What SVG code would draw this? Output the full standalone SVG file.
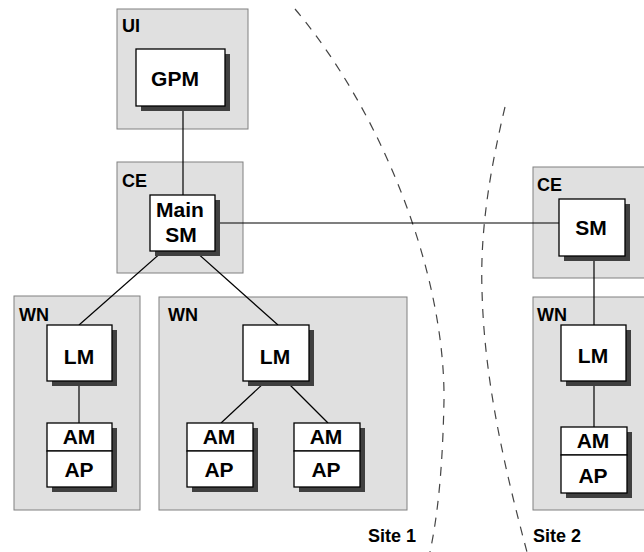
<svg xmlns="http://www.w3.org/2000/svg" width="644" height="552" viewBox="0 0 644 552">
<style>
.grp{fill:#e0e0e0;stroke:#808080;stroke-width:1}
.box{fill:#fff;stroke:#000;stroke-width:1.3}
.sh{fill:#404040}
.glab{font-family:"Liberation Sans",Arial,sans-serif;font-weight:bold;font-size:18px;fill:#000}
.nlab{font-family:"Liberation Sans",Arial,sans-serif;font-weight:bold;font-size:21px;fill:#000;text-anchor:middle}
.con{stroke:#000;stroke-width:1.2;fill:none}
.site{fill:none;stroke:#444;stroke-width:1.2;stroke-dasharray:9 8}
</style>
<rect width="644" height="552" fill="#fff"/>
<g id="groups">
<g id="g-ui"><rect class="grp" x="117" y="9" width="131" height="120"/><text class="glab" x="122" y="32">UI</text></g>
<g id="g-ce1"><rect class="grp" x="117" y="162" width="126" height="111"/><text class="glab" x="122" y="187">CE</text></g>
<g id="g-wn1"><rect class="grp" x="14" y="296" width="126" height="214"/><text class="glab" x="19" y="321">WN</text></g>
<g id="g-wn2"><rect class="grp" x="159" y="297" width="248" height="213"/><text class="glab" x="168" y="321">WN</text></g>
<g id="g-ce2"><rect class="grp" x="533" y="167" width="115" height="111"/><text class="glab" x="537" y="191">CE</text></g>
<g id="g-wn3"><rect class="grp" x="533" y="297" width="115" height="213"/><text class="glab" x="537" y="321">WN</text></g>
</g>
<g id="site-boundaries">
<path class="site" d="M295,9 C380,110 445,270 444,400 C443,450 440,505 430,552"/>
<path class="site" d="M505,107 C490,170 480,230 482,290 C484,380 505,470 527,552"/>
<text class="glab" x="368" y="542">Site 1</text>
<text class="glab" x="533" y="542">Site 2</text>
</g>
<g id="connectors">
<line class="con" x1="183" y1="106" x2="183" y2="195"/>
<line class="con" x1="163" y1="251" x2="79" y2="325"/>
<line class="con" x1="195" y1="251" x2="278" y2="325"/>
<line class="con" x1="215" y1="223" x2="559" y2="223"/>
<line class="con" x1="594" y1="256" x2="594" y2="325"/>
<line class="con" x1="79" y1="381" x2="79" y2="423"/>
<line class="con" x1="266" y1="381" x2="221" y2="423"/>
<line class="con" x1="286" y1="381" x2="328" y2="423"/>
<line class="con" x1="594" y1="381" x2="594" y2="427"/>
</g>
<g id="n-gpm"><rect class="sh" x="141" y="54" width="89" height="57"/><rect class="box" x="136" y="49" width="89" height="57"/><text class="nlab" x="175" y="86">GPM</text></g>
<g id="n-mainsm"><rect class="sh" x="155" y="200" width="65" height="56"/><rect class="box" x="150" y="195" width="65" height="56"/><text class="nlab" x="180" y="217">Main</text><text class="nlab" x="181" y="242">SM</text></g>
<g id="n-sm"><rect class="sh" x="564" y="204" width="66" height="57"/><rect class="box" x="559" y="199" width="66" height="57"/><text class="nlab" x="591" y="235">SM</text></g>
<g id="n-lm1"><rect class="sh" x="52" y="330" width="65" height="56"/><rect class="box" x="47" y="325" width="65" height="56"/><text class="nlab" x="79" y="364">LM</text></g>
<g id="n-lm2"><rect class="sh" x="248" y="330" width="66" height="56"/><rect class="box" x="243" y="325" width="66" height="56"/><text class="nlab" x="275" y="364">LM</text></g>
<g id="n-lm3"><rect class="sh" x="566" y="330" width="65" height="56"/><rect class="box" x="561" y="325" width="65" height="56"/><text class="nlab" x="593" y="363">LM</text></g>
<g id="n-amap1"><rect class="sh" x="52" y="428" width="65" height="64"/><rect class="box" x="47" y="423" width="65" height="28"/><rect class="box" x="47" y="451" width="65" height="36"/><text class="nlab" x="79" y="444">AM</text><text class="nlab" x="79" y="477">AP</text></g>
<g id="n-amap2"><rect class="sh" x="192" y="428" width="66" height="64"/><rect class="box" x="187" y="423" width="66" height="28"/><rect class="box" x="187" y="451" width="66" height="36"/><text class="nlab" x="219" y="444">AM</text><text class="nlab" x="219" y="477">AP</text></g>
<g id="n-amap3"><rect class="sh" x="299" y="428" width="66" height="64"/><rect class="box" x="294" y="423" width="66" height="28"/><rect class="box" x="294" y="451" width="66" height="36"/><text class="nlab" x="326" y="444">AM</text><text class="nlab" x="326" y="477">AP</text></g>
<g id="n-amap4"><rect class="sh" x="566" y="432" width="66" height="66"/><rect class="box" x="561" y="427" width="66" height="28"/><rect class="box" x="561" y="455" width="66" height="38"/><text class="nlab" x="593" y="448">AM</text><text class="nlab" x="593" y="483">AP</text></g>
</svg>
